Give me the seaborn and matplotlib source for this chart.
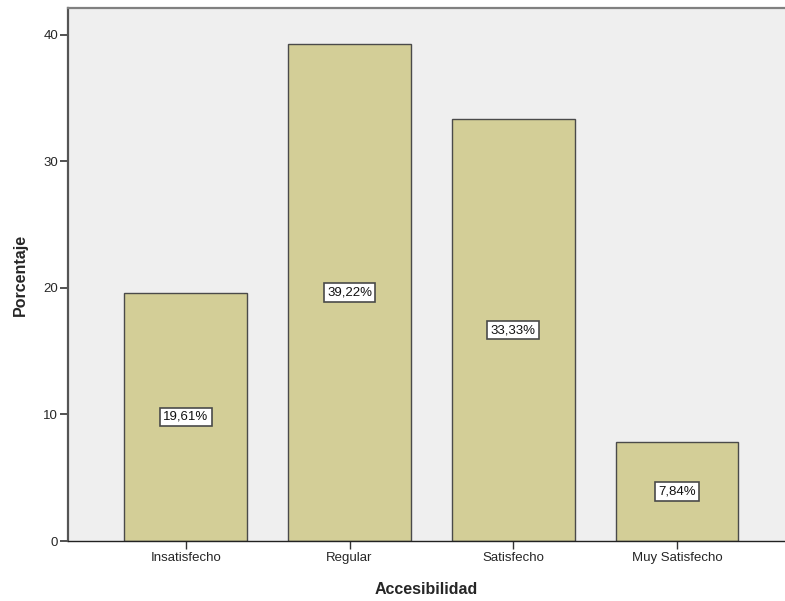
import pandas as pd
import matplotlib.pyplot as plt
import seaborn as sns

# Data
categories = ["Insatisfecho", "Regular", "Satisfecho", "Muy Satisfecho"]
percentages = [19.61, 39.22, 33.33, 7.84]
bar_labels = ["19,61%", "39,22%", "33,33%", "7,84%"]

df = pd.DataFrame({"Accesibilidad": categories, "Porcentaje": percentages})

sns.set_style("white", {"xtick.bottom": True, "ytick.left": True})
plt.rcParams['font.family'] = ['Liberation Sans', 'DejaVu Sans']

fig = plt.figure(figsize=(7.85, 6.01), dpi=100)
ax = fig.add_axes([68 / 785, 60 / 601, 717 / 785, 533 / 601])
ax.set_facecolor("#EFEFEF")

sns.barplot(data=df, x="Accesibilidad", y="Porcentaje", color="#D3CE97",
            width=0.75, edgecolor="#4A4A4A", linewidth=1.0, saturation=1,
            ax=ax, zorder=2)

# Value labels in the middle of each bar
for i, (v, lab) in enumerate(zip(percentages, bar_labels)):
    ax.text(i, v / 2, lab, ha="center", va="center", fontsize=9.5, color="#111111",
            bbox=dict(boxstyle="square,pad=0.25", facecolor="white",
                      edgecolor="#4A4A4A", linewidth=1.2), zorder=3)

ax.set_xlim(-0.72, 3.66)
ax.set_ylim(0, 42.1)
ax.set_yticks([0, 10, 20, 30, 40])

ax.spines["right"].set_visible(False)
ax.spines["top"].set_color("#808080")
ax.spines["top"].set_linewidth(1.6)
ax.spines["left"].set_color("#555555")
ax.spines["left"].set_linewidth(1.6)
ax.spines["bottom"].set_color("#222222")
ax.spines["bottom"].set_linewidth(1.0)

ax.tick_params(axis="y", length=6, width=1.2, color="#333333", labelsize=9.5, pad=1)
ax.tick_params(axis="x", length=6, width=1.0, color="#333333", labelsize=9.5, pad=2)

ax.set_xlabel("Accesibilidad", fontsize=11.5, fontweight="bold", labelpad=13)
ax.set_ylabel("Porcentaje", fontsize=11.5, fontweight="bold", labelpad=11)

fig.savefig("out.png", dpi=100)
plt.close()
